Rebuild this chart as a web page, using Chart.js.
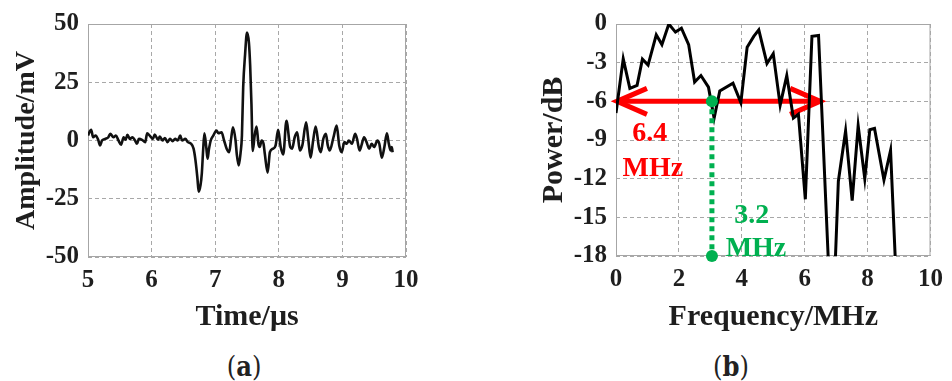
<!DOCTYPE html>
<html>
<head>
<meta charset="utf-8">
<script src="https://cdn.jsdelivr.net/npm/chart.js@4"></script>
<style>
  body { margin: 0; background: #fff; }
  #fig { position: relative; width: 952px; height: 381px; }
  .box { position: absolute; top: 0; width: 476px; height: 340px; }
  .cap { position: absolute; top: 351px; width: 60px; text-align: center; font: 27px 'DejaVu Serif Condensed', 'Liberation Serif', serif; color: #222; line-height: 32px; }
</style>
</head>
<body>
<div id="fig">
  <div class="box" style="left:0"><canvas id="timeChart" width="476" height="340"></canvas></div>
  <div class="box" style="left:476px"><canvas id="freqChart" width="476" height="340"></canvas></div>
  <div class="cap" style="left:214px">(<b>a</b>)</div>
  <div class="cap" style="left:701px">(<b>b</b>)</div>
</div>
<script>
// (a) time signal
const times = [5.00, 5.03, 5.05, 5.08, 5.12, 5.16, 5.19, 5.22, 5.27, 5.32, 5.35, 5.40, 5.44, 5.48, 5.52, 5.56, 5.59, 5.62, 5.66, 5.70,
  5.74, 5.77, 5.80, 5.85, 5.90, 5.93, 5.97, 6.02, 6.05, 6.10, 6.13, 6.17, 6.21, 6.25, 6.29, 6.33, 6.37, 6.41, 6.45, 6.48,
  6.53, 6.57, 6.62, 6.66, 6.69, 6.72, 6.74, 6.77, 6.79, 6.81, 6.83, 6.86, 6.88, 6.90, 6.93, 6.97, 7.02, 7.05, 7.10, 7.14,
  7.18, 7.22, 7.25, 7.28, 7.32, 7.34, 7.37, 7.40, 7.42, 7.44, 7.47, 7.50, 7.53, 7.55, 7.57, 7.59, 7.62, 7.65, 7.68, 7.70,
  7.73, 7.76, 7.78, 7.825, 7.86, 7.91, 7.95, 7.99, 8.03, 8.07, 8.12, 8.18, 8.21, 8.25, 8.29, 8.33, 8.37, 8.43, 8.46, 8.50,
  8.54, 8.58, 8.63, 8.66, 8.70, 8.74, 8.77, 8.80, 8.86, 8.91, 8.95, 8.99, 9.03, 9.07, 9.10, 9.15, 9.20, 9.23, 9.27, 9.30,
  9.34, 9.38, 9.42, 9.46, 9.50, 9.55, 9.58, 9.62, 9.66, 9.70, 9.73, 9.76, 9.775, 9.79];
const amplitude = [2.1, 4.0, 4.6, 1.4, 2.1, 0.3, -2.1, 0, 0.7, 1.4, 2.9, 1.4, 2.1, 0, -1.8, 1.4, 0.3, 2.4, 0.7, 1.4,
  0, -1.4, 0.7, 0.3, -0.7, 3.1, 2.1, 0.7, 2.6, 0.3, 1.7, 0, 1.1, -0.7, 0.7, -0.3, 0.7, 0, 2.1, 0,
  0.7, -0.7, -1.4, -3.5, -8.5, -16, -22, -19, -14, -4.3, 3.1, -3, -7.8, -4, 0, 2.1, 4.3, 3.1, 3.5, 0,
  -3.5, -5.0, 0.7, 5.7, 0, -6, -10.7, -5, 2, 22.8, 37, 46.3, 42, 32, 15.7, -4.5, 2, 6.0, -1.5, -2.8,
  0, -1.4, -5.7, -13.8, -5.0, -3.5, -2.1, 4.6, -2.8, -6.0, 8.5, -2.8, -3.5, 1.4, 3.5, -4.3, -2.1, 7.8, 1.4, -7.4,
  0, 6.0, -2.8, -5.0, 0.7, 2.9, -2.1, -4.3, 1.4, 6.4, -2.1, -5.0, -0.7, -1.4, 0, -1.4, 2.9, 0.7, -4.3, -2.1,
  1.4, -0.7, -3.5, -1.4, -2.8, 0, -1.4, -7.4, -2.8, 3.1, -1.4, -4.3, -2.8, -5.0];

// (b) spectrum
const freqs = [0, 0.23, 0.44, 0.67, 0.84, 1.02, 1.28, 1.46, 1.68, 1.89, 2.08, 2.31, 2.5, 2.70, 2.94, 3.12, 3.30, 3.72, 3.97, 4.17,
  4.38, 4.54, 4.80, 5.00, 5.22, 5.43, 5.64, 5.80, 6.02, 6.23, 6.44, 6.87, 7.07, 7.30, 7.51, 7.70, 7.91, 8.07, 8.22, 8.52,
  8.73, 9.0];
const power = [-6.9, -2.7, -5.0, -4.76, -2.73, -3.19, -0.84, -1.6, 0, -0.63, -0.33, -1.6, -4.5, -4.0, -4.9, -7.3, -5.2, -4.6, -6.1, -1.8,
  -0.96, -0.46, -3.06, -2.3, -6.3, -4.0, -7.3, -7.0, -13.6, -0.96, -0.89, -25, -12.2, -8.3, -13.7, -7.9, -12.0, -8.2, -8.1, -12.1,
  -9.8, -25];

const bandLevel = -6;          // dB
const bandEdges = [0.03, 6.49]; // MHz
const centerFreq = 3.05;        // MHz

const serif = "'Liberation Serif', 'Times New Roman', serif";
const tickFont = { family: serif, size: 25, weight: 'bold' };
const ink = '#1e1e1e';
const gridColor = '#a8a8a8';

const frame = {
  id: 'frame',
  beforeDatasetsDraw(chart) {
    const { ctx, chartArea: a } = chart;
    ctx.save();
    ctx.strokeStyle = '#a6a6a6';
    ctx.lineWidth = 1;
    ctx.strokeRect(a.left + 0.5, a.top + 0.5, a.width - 1, a.height - 1);
    ctx.restore();
  }
};

function axis(min, max, step, title, size, fitFn, titlePad) {
  return {
    type: 'linear', min, max,
    ticks: { stepSize: step, font: tickFont, color: ink, padding: 9 },
    grid: { color: gridColor, drawTicks: false },
    border: { display: false, dash: [4, 3] },
    title: { display: true, text: title, color: ink, font: { family: serif, size, weight: 'bold' }, padding: titlePad },
    afterFit: fitFn
  };
}

new Chart(document.getElementById('timeChart'), {
  type: 'line',
  data: {
    datasets: [{
      data: times.map((t, i) => ({ x: t, y: amplitude[i] })),
      borderColor: '#111', borderWidth: 2.6, pointRadius: 0,
      cubicInterpolationMode: 'monotone'
    }]
  },
  options: {
    responsive: false, animation: false, events: [],
    layout: { padding: { top: 23, right: 70, left: 0, bottom: 0 } },
    plugins: { legend: { display: false }, tooltip: { enabled: false } },
    scales: {
      x: axis(5, 10, 1, 'Time/μs', 30, s => { s.height = 83; }, { top: 0, bottom: 5 }),
      y: axis(-50, 50, 25, 'Amplitude/mV', 28, s => { s.width = 88; }, { top: 10, bottom: 0 })
    }
  },
  plugins: [frame]
});

const bandMarks = {
  id: 'bandMarks',
  beforeDatasetsDraw(chart) {
    const { ctx, scales: { x, y } } = chart;
    const yl = y.getPixelForValue(bandLevel);
    const xl = x.getPixelForValue(bandEdges[0]);
    const xr = x.getPixelForValue(bandEdges[1]);
    ctx.save();
    ctx.strokeStyle = '#ff0000';
    ctx.lineWidth = 5;
    ctx.beginPath(); ctx.moveTo(xl, yl); ctx.lineTo(xr, yl); ctx.stroke();
    for (const [tip, dir] of [[xl, 1], [xr, -1]]) {
      ctx.beginPath();
      ctx.moveTo(tip + dir * 30, yl - 13);
      ctx.lineTo(tip, yl);
      ctx.lineTo(tip + dir * 30, yl + 13);
      ctx.stroke();
    }
    ctx.restore();
  },
  afterDatasetsDraw(chart) {
    const { ctx, scales: { x, y } } = chart;
    const xc = x.getPixelForValue(centerFreq);
    const yt = y.getPixelForValue(bandLevel), yb = y.getPixelForValue(-18);
    ctx.save();
    ctx.strokeStyle = ctx.fillStyle = '#00b050';
    ctx.lineWidth = 5;
    ctx.setLineDash([5, 4]);
    ctx.beginPath(); ctx.moveTo(xc, yt + 8); ctx.lineTo(xc, yb - 6); ctx.stroke();
    for (const yy of [yt, yb]) {
      ctx.beginPath(); ctx.arc(xc, yy, 6, 0, Math.PI * 2); ctx.fill();
    }
    ctx.font = 'bold 28px ' + serif;
    ctx.textAlign = 'center';
    ctx.textBaseline = 'middle';
    ctx.fillText('3.2', x.getPixelForValue(4.32), y.getPixelForValue(-14.9));
    ctx.fillText('MHz', x.getPixelForValue(4.45), y.getPixelForValue(-17.4));
    ctx.fillStyle = '#ff0000';
    ctx.fillText('6.4', x.getPixelForValue(1.07), y.getPixelForValue(-8.5));
    ctx.fillText('MHz', x.getPixelForValue(1.17), y.getPixelForValue(-11.2));
    ctx.restore();
  }
};

new Chart(document.getElementById('freqChart'), {
  type: 'line',
  data: {
    datasets: [{
      data: freqs.map((f, i) => ({ x: f, y: power[i] })),
      borderColor: '#000', borderWidth: 3, pointRadius: 0, tension: 0
    }]
  },
  options: {
    responsive: false, animation: false, events: [],
    layout: { padding: { top: 19, right: 19, left: 0, bottom: 0 } },
    plugins: { legend: { display: false }, tooltip: { enabled: false } },
    scales: {
      x: axis(0, 10, 2, 'Frequency/MHz', 30, s => { s.height = 84; }, { top: 0, bottom: 5 }),
      y: axis(-18, 0, 3, 'Power/dB', 30, s => { s.width = 140; }, { top: 60, bottom: 0 })
    }
  },
  plugins: [frame, bandMarks]
});
</script>
</body>
</html>
